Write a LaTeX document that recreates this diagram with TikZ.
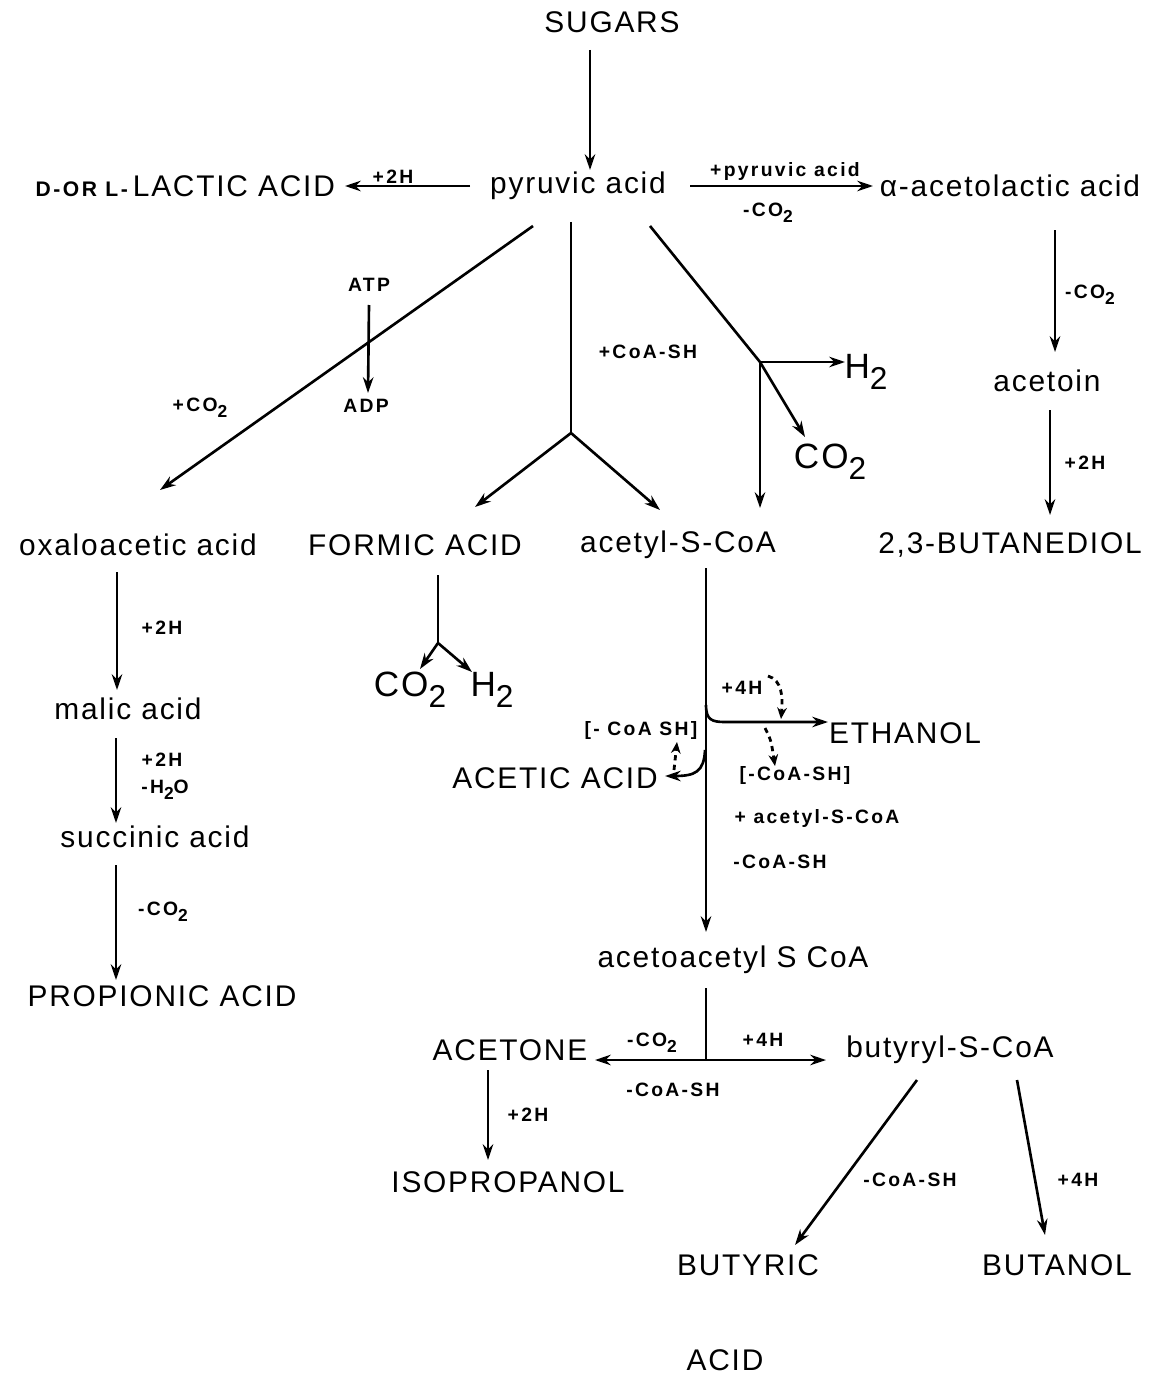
\documentclass[tikz,border=0pt]{standalone}
\usepackage{fontspec}
\setmainfont{Liberation Sans}[LetterSpace=6]
\newfontfamily\lblfont{Liberation Sans}[LetterSpace=12]
\usetikzlibrary{arrows.meta,calc}
\newcommand\sbs[1]{\raisebox{-0.6ex}{\scalebox{0.9}{#1}}}
\tikzset{
  big/.style={font=\fontsize{17}{20}\selectfont, inner sep=1pt},
  gas/.style={font=\fontsize{20}{24}\selectfont, inner sep=1pt},
  lab/.style={font=\lblfont\bfseries\fontsize{11}{13}\selectfont, inner sep=1pt},
  ln/.style={line width=1.5pt},
  arr/.style={line width=1.5pt, -{Stealth[length=9pt,width=6pt]}},
  dotarr/.style={line width=1.6pt, dash pattern=on 3pt off 2.5pt, -{Stealth[length=6.5pt,width=5.5pt]}}
}
\begin{document}
\begin{tikzpicture}[x=0.02cm,y=-0.02cm]
\useasboundingbox[fill=white] (0,0) rectangle (1163,1375);

% ---- nodes
\node[big] (sug) at (612,22) {SUGARS};
\node[big] (pyr) at (578,186) {pyruvic acid};
\node[big, anchor=east] (lac) at (337,186) {{\lblfont\bfseries\fontsize{12}{14}\selectfont D-OR L-}\,LACTIC ACID};
\node[big] (ala) at (1010,186) {α-acetolactic acid};
\node[big] (acn) at (1047,381) {acetoin};
\node[big] (btd) at (1010,545) {2,3-BUTANEDIOL};
\node[big] (oxa) at (138,545) {oxaloacetic acid};
\node[big] (frm) at (415,545) {FORMIC ACID};
\node[big] (acs) at (678,545) {acetyl-S-CoA};
\node[big] (mal) at (128,709) {malic acid};
\node[big] (suc) at (155,837) {succinic acid};
\node[big] (pro) at (162,996) {PROPIONIC ACID};
\node[big] (eth) at (905,733) {ETHANOL};
\node[big] (aca) at (555,778) {ACETIC ACID};
\node[big] (aaa) at (733,960) {acetoacetyl S CoA};
\node[big] (act) at (510,1050) {ACETONE};
\node[big] (bsc) at (950,1050) {butyryl-S-CoA};
\node[big] (iso) at (508,1182) {ISOPROPANOL};
\node[big] (but) at (748,1265) {BUTYRIC};
\node[big] (bol) at (1057,1265) {BUTANOL};
\node[big] (acid) at (725,1360) {ACID};
\node[lab] (atp) at (369,285) {ATP};
\node[lab] (adp) at (366,406) {ADP};
\node[gas] (coa) at (830,462) {CO\sbs{2}};
\node[gas] (h2a) at (866,372) {H\sbs{2}};
\node[gas] (cob) at (410,690) {CO\sbs{2}};
\node[gas] (h2b) at (492,690) {H\sbs{2}};

% ---- branch points
\coordinate (bp1) at (571,433);
\coordinate (bp2) at (760,362);
\coordinate (bp3) at (438,643);
\coordinate (bp4) at (706,1060);
\coordinate (ethb) at (706,705);
\coordinate (acab) at (705,750);

% ---- top
\draw[arr] ($(sug)+(-22,28)$) -- ($(pyr)+(12,-16)$);
\draw[arr] ($(pyr)+(-108,0)$) -- ($(lac.east)+(8,0)$);
\node[lab] at (393,177) {+2H};
\draw[arr] ($(pyr)+(112,0)$) -- ($(ala)+(-137,0)$);
\node[lab] at (785,172) {+pyruvic acid};
\node[lab] at (768,213) {-CO\sbs{2}};

% ---- right column
\draw[arr] ($(ala)+(45,44)$) -- ($(acn)+(8,-29)$);
\node[lab] at (1090,295) {-CO\sbs{2}};
\draw[arr] ($(acn)+(3,29)$) -- ($(btd)+(40,-30)$);
\node[lab] at (1085,463) {+2H};

% ---- pyruvate to oxaloacetate
\draw[arr] ($(pyr)+(-45,40)$) -- ($(oxa)+(22,-55)$);
\node[lab] at (200,408) {+CO\sbs{2}};
\draw[arr] ($(atp)+(0,20)$) -- ($(adp)+(2,-13)$);

% ---- pyruvate formate lyase
\draw[ln] ($(pyr)+(-7,36)$) -- (bp1);
\draw[arr] (bp1) -- ($(frm)+(60,-38)$);
\draw[arr] (bp1) -- ($(acs)+(-18,-35)$);
\node[lab] at (648,352) {+CoA-SH};

% ---- pyruvate ferredoxin
\draw[ln] ($(pyr)+(72,40)$) -- (bp2);
\draw[arr] (bp2) -- ($(coa)+(-25,-25)$);
\draw[arr] (bp2) -- ($(h2a)+(-21,-10)$);
\draw[arr] (bp2) -- ($(acs)+(82,-37)$);

% ---- formic acid
\draw[ln] ($(frm)+(23,30)$) -- (bp3);
\draw[arr] (bp3) -- ($(cob)+(10,-21)$);
\draw[arr] (bp3) -- ($(h2b)+(-20,-18)$);

% ---- left column
\draw[arr] ($(oxa)+(-21,27)$) -- ($(mal)+(-11,-19)$);
\node[lab] at (162,628) {+2H};
\draw[arr] ($(mal)+(-12,29)$) -- ($(suc)+(-39,-14)$);
\node[lab] at (162,760) {+2H};
\node[lab] at (165,790) {-H\sbs{2}O};
\draw[arr] ($(suc)+(-39,28)$) -- ($(pro)+(-46,-16)$);
\node[lab] at (163,912) {-CO\sbs{2}};

% ---- acetyl-S-CoA column
\draw[arr] ($(acs)+(28,23)$) -- ($(aaa)+(-27,-28)$);
\draw[arr] (ethb) .. controls (706,720) and (712,722) .. (725,722) -- ($(eth)+(-77,-11)$);
\node[lab] at (742,688) {+4H};
\draw[dotarr] (768,676) .. controls (782,680) and (783,697) .. (781,719);
\draw[dotarr] (765,728) .. controls (771,740) .. (775,766);
\node[lab] at (795,775) {[-CoA-SH]};
\node[lab] at (817,818) {+ acetyl-S-CoA};
\node[lab] at (780,862) {-CoA-SH};
\draw[arr] (acab) .. controls (704,772) and (695,776) .. ($(aca)+(110,-2)$);
\node[lab] at (641,730) {[- CoA SH]};
\draw[dotarr] (674,770) -- (677,742);

% ---- acetoacetyl S CoA
\draw[ln] ($(aaa)+(-27,28)$) -- (bp4);
\draw[arr] (bp4) -- ($(act)+(85,10)$);
\draw[arr] (bp4) -- ($(bsc)+(-124,10)$);
\node[lab] at (652,1043) {-CO\sbs{2}};
\node[lab] at (763,1040) {+4H};
\node[lab] at (673,1090) {-CoA-SH};

\draw[arr] ($(act)+(-22,20)$) -- ($(iso)+(-20,-22)$);
\node[lab] at (528,1115) {+2H};
\draw[arr] ($(bsc)+(-33,30)$) -- ($(but)+(47,-20)$);
\node[lab] at (910,1180) {-CoA-SH};
\draw[arr] ($(bsc)+(67,30)$) -- ($(bol)+(-12,-30)$);
\node[lab] at (1078,1180) {+4H};
\end{tikzpicture}
\end{document}
